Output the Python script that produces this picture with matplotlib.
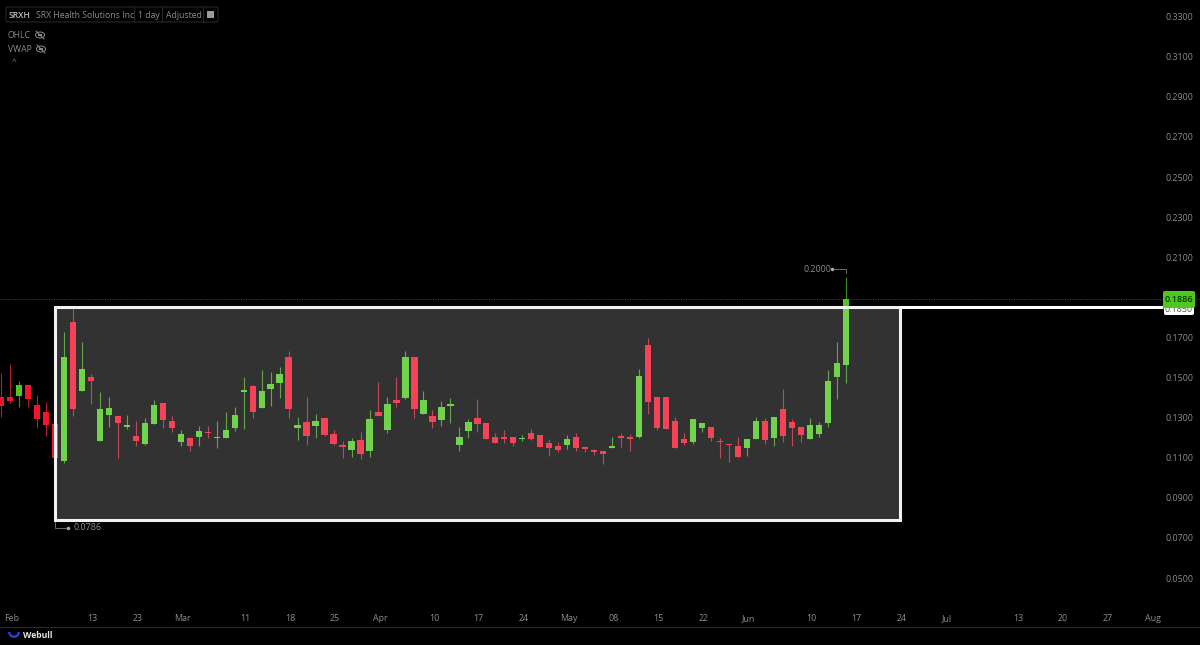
import matplotlib
matplotlib.use('Agg')
import matplotlib.pyplot as plt
from matplotlib.patches import Rectangle, FancyBboxPatch, Ellipse, Wedge
from matplotlib.lines import Line2D
from matplotlib.transforms import ScaledTranslation, IdentityTransform

plt.rcParams['font.family'] = ['Open Sans', 'DejaVu Sans']

# daily candles
opens = [.1398, .1398, .1404, .1459, .1358, .1324, .1263, .1080, .1773, .1429, .1499, .1178, .1311, .1303, .1248, .1206,
         .1163, .1266, .1368, .1281, .1175, .1193, .1198, .1225, .1193, .1196, .1245, .1422, .1452, .1346, .1439, .1467,
         .1599, .1246, .1273, .1255, .1296, .1213, .1158, .1137, .1185, .1128, .1323, .1236, .1384, .1394, .1599, .1316,
         .1303, .1285, .1356, .1160, .1230, .1293, .1270, .1199, .1198, .1199, .1188, .1218, .1208, .1170, .1153, .1160,
         .1198, .1148, .1135, .1130, .1147, .1205, .1200, .1200, .1657, .1399, .1399, .1280, .1190, .1176, .1246, .1248,
         .1181, .1165, .1155, .1145, .1191, .1278, .1196, .1340, .1273, .1250, .1190, .1216, .1270, .1497, .1559]
closes = [.1356, .1381, .1459, .1388, .1288, .1258, .1097, .1600, .1338, .1541, .1479, .1339, .1344, .1271, .1261, .1180,
          .1269, .1359, .1286, .1246, .1216, .1153, .1231, .1221, .1200, .1233, .1311, .1436, .1326, .1431, .1462, .1516,
          .1338, .1259, .1205, .1278, .1208, .1165, .1151, .1178, .1115, .1290, .1305, .1366, .1368, .1597, .1338, .1384,
          .1275, .1349, .1363, .1199, .1276, .1265, .1192, .1170, .1192, .1168, .1195, .1190, .1150, .1145, .1133, .1192,
          .1145, .1140, .1127, .1115, .1155, .1196, .1191, .1504, .1376, .1246, .1241, .1147, .1168, .1290, .1270, .1195,
          .1176, .1158, .1100, .1188, .1278, .1185, .1298, .1203, .1243, .1208, .1258, .1258, .1481, .1569, .1886]
highs = [.1517, .1564, .1481, .1459, .1409, .1376, .1263, .1725, .1842, .1675, .1512, .1426, .1401, .1303, .1309, .1281,
         .1293, .1384, .1368, .1304, .1235, .1193, .1254, .1254, .1279, .1324, .1351, .1497, .1459, .1536, .1524, .1551,
         .1629, .1298, .1401, .1316, .1296, .1235, .1178, .1195, .1225, .1333, .1473, .1401, .1501, .1630, .1599, .1431,
         .1334, .1379, .1393, .1249, .1288, .1389, .1270, .1218, .1235, .1199, .1211, .1238, .1208, .1188, .1173, .1211,
         .1218, .1148, .1140, .1130, .1198, .1218, .1213, .1541, .1694, .1399, .1399, .1298, .1221, .1290, .1270, .1248,
         .1193, .1165, .1201, .1188, .1300, .1295, .1298, .1441, .1288, .1250, .1295, .1273, .1534, .1675, .2000]
lows = [.1301, .1371, .1348, .1348, .1243, .1206, .0786, .1072, .1304, .1429, .1364, .1178, .1251, .1097, .1238, .1156,
        .1158, .1266, .1243, .1226, .1156, .1131, .1156, .1196, .1145, .1196, .1231, .1241, .1294, .1346, .1354, .1396,
        .1296, .1186, .1162, .1196, .1205, .1162, .1095, .1098, .1088, .1098, .1305, .1220, .1349, .1388, .1296, .1316,
        .1245, .1255, .1271, .1132, .1195, .1225, .1188, .1168, .1170, .1156, .1178, .1187, .1148, .1103, .1125, .1142,
        .1132, .1127, .1112, .1065, .1147, .1148, .1132, .1195, .1314, .1235, .1241, .1147, .1158, .1166, .1225, .1180,
        .1093, .1075, .1100, .1107, .1191, .1165, .1156, .1176, .1156, .1176, .1188, .1200, .1248, .1391, .1471]

price_ticks = [.05, .07, .09, .11, .13, .15, .17, .21, .23, .25, .27, .29, .31, .33]
date_labels = ['Feb', '13', '23', 'Mar', '11', '18', '25', 'Apr', '10', '17', '24', 'May', '08', '15', '22', 'Jun',
               '10', '17', '24', 'Jul', '13', '20', '27', 'Aug']
date_slots = [2, 11, 16, 21, 28, 33, 38, 43, 49, 54, 59, 64, 69, 74, 79, 84, 91, 96, 101, 106, 114, 119, 124, 129]
box_top = .1848
box_end_slot = 101
hidden_tag = .1850

GREEN = '#4ec71f'
RED = '#f5142d'
TEXT = '#8c8c8c'

fig = plt.figure(figsize=(12, 6.45), dpi=100, facecolor='black')
ax = fig.add_axes([0, 0, 1, 1], facecolor='black')
ax.set_xlim(0.889, 134.4)
ax.set_ylim(.01623, .3379)
for s in ax.spines.values():
    s.set_visible(False)

slots = list(range(1, len(opens) + 1))
up = [c >= o for o, c in zip(opens, closes)]
cols = [GREEN if u else RED for u in up]
wick_cols = ['#3f8f22' if u else '#b01c2c' for u in up]
ax.vlines(slots, lows, highs, colors=wick_cols, lw=0.8, zorder=2)
ax.bar(slots, [c - o for o, c in zip(opens, closes)], bottom=opens, width=0.7, color=cols, zorder=3)

# last price dotted line
last = closes[-1]
ax.axhline(last, color='#2f5a22', lw=0.7, ls=(0, (1, 1.5)), zorder=1)

# the drawn box, sits on top of the candles
box_low = min(lows)
box_x0 = slots[lows.index(box_low)]
ax.add_patch(Rectangle((box_x0, box_low), box_end_slot - box_x0, box_top - box_low, facecolor='white',
                       alpha=0.2, edgecolor='none', zorder=4))
ax.add_patch(Rectangle((box_x0, box_low), box_end_slot - box_x0, box_top - box_low, facecolor='none',
                       edgecolor='white', lw=2.2, alpha=.95, zorder=5))
ax.plot([box_end_slot, 130.3], [box_top, box_top], color='white', lw=2.2, zorder=5, solid_capstyle='butt')

# axis labels sit inside the plot, like the trading screen
ax.yaxis.tick_right()
ax.set_yticks(price_ticks)
ax.set_yticklabels([f'{p:.4f}' for p in price_ticks])
ax.tick_params(axis='y', length=0, pad=-25, labelsize=6.4, labelcolor=TEXT)
ax.set_xticks(date_slots)
ax.set_xticklabels(date_labels)
ax.tick_params(axis='x', length=0, pad=-22, labelsize=6.4, labelcolor=TEXT)
nudge_x = ScaledTranslation(1.5 / 100, 0, fig.dpi_scale_trans)
nudge_y = ScaledTranslation(0, -0.8 / 100, fig.dpi_scale_trans)
for lab in ax.get_xticklabels():
    lab.set_transform(lab.get_transform() + nudge_x)
for lab in ax.get_yticklabels():
    lab.set_transform(lab.get_transform() + nudge_y)


def px(x, y):
    # screen pixels to figure fraction
    return x / 1200, 1 - y / 645


def ftext(x, y, s, **kw):
    fx, fy = px(x, y)
    kw.setdefault('va', 'center')
    kw.setdefault('fontsize', 6.4)
    kw.setdefault('color', TEXT)
    kw.setdefault('zorder', 10)
    fig.text(fx, fy, s, **kw)


def fline(xs, ys, **kw):
    pts = [px(x, y) for x, y in zip(xs, ys)]
    fig.add_artist(Line2D([p[0] for p in pts], [p[1] for p in pts], transform=fig.transFigure, **kw))


def eye(x, y):
    fig.add_artist(Ellipse(px(x, y), 9 / 1200, 6 / 645, fc='none', ec='#8c8c8c', lw=0.7, transform=fig.transFigure))
    fline([x - 4, x + 4], [y - 4, y + 4], color='#8c8c8c', lw=0.7)
    fline([x - 1, x + 1], [y, y], color='#8c8c8c', lw=1.4)


# price tags at the right
x0, y1 = px(1164, 315)
fig.add_artist(FancyBboxPatch((x0, y1), 30 / 1200, 14 / 645, boxstyle='round,pad=0,rounding_size=0.002',
                              fc='white', ec='none', transform=fig.transFigure, zorder=6))
ftext(1179, 309, f'{hidden_tag:.4f}', ha='center', color='#555555', zorder=6.5)
x0, y1 = px(1163, 308)
fig.add_artist(FancyBboxPatch((x0, y1), 32 / 1200, 17 / 645, boxstyle='round,pad=0,rounding_size=0.002',
                              fc=GREEN, ec='none', transform=fig.transFigure, zorder=7))
ftext(1179, 300, f'{last:.4f}', ha='center', color='#0c3a00', fontsize=6.6, fontweight='semibold')

# high / low markers
ftext(803, 269, f'{max(highs):.4f}')
fline([832, 846, 846], [269, 269, 273], color='#777777', lw=0.6)
fline([832], [269], color='#aaaaaa', marker='o', ms=1.5)
ftext(73, 528, f'{box_low:.4f}')
fline([55, 55, 68], [522, 528, 528], color='#777777', lw=0.6)
fline([68], [528], color='#aaaaaa', marker='o', ms=1.5)

# header strip
x0, y1 = px(6, 22)
fig.add_artist(FancyBboxPatch((x0, y1), 212 / 1200, 15 / 645, boxstyle='round,pad=0,rounding_size=0.002',
                              fc='none', ec='#262626', lw=0.8, transform=fig.transFigure))
for xd in [134, 162, 203]:
    fline([xd, xd], [7, 22], color='#262626', lw=0.8)
ftext(9, 15, 'SRXH', color='#bdbdbd', fontsize=6.2, fontweight='semibold')
ftext(36, 15, 'SRX Health Solutions Inc', fontsize=6.2)
ftext(138, 15, '1 day', fontsize=6.2)
ftext(166, 15, 'Adjusted', fontsize=6.2)
fig.add_artist(Rectangle(px(207, 18), 7 / 1200, 7 / 645, fc='#9a9a9a', ec='none', transform=fig.transFigure))
ftext(8, 35, 'OHLC', fontsize=6.2)
eye(40, 35)
ftext(8, 49, 'VWAP', fontsize=6.2)
eye(41, 49)
ftext(14, 63, '^', ha='center', fontsize=6)

# footer
fline([0, 1200], [627, 627], color='#2a2a2a', lw=0.8)
fig.add_artist(Wedge((14, 645 - 632), 6, 180, 360, width=2.5, fc='#1f3fe0', ec='none',
                     transform=IdentityTransform()))
ftext(23, 636, 'Webull', color='#e6e6e6', fontsize=6.2, fontweight='bold')

fig.savefig('out.png', dpi=100, facecolor='black')
